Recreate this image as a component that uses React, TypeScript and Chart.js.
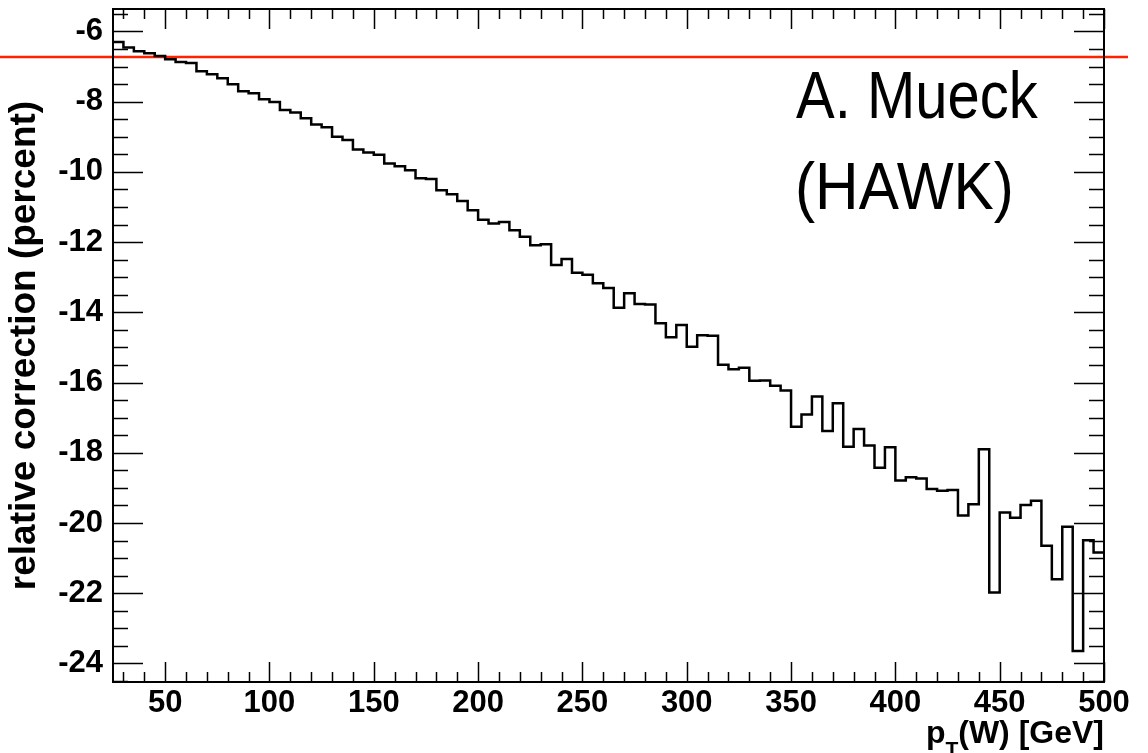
import { useEffect, useRef } from "react";
import { Chart, registerables } from "chart.js";

Chart.register(...registerables);

// ---- data ----
const binLow = 25; // GeV, lower edge of the first bin
const binWidth = 5; // GeV
const correction = [
  -6.30, -6.46, -6.56, -6.62, -6.70, -6.79, -6.87, -6.90, -7.13, -7.22,
  -7.33, -7.50, -7.70, -7.76, -7.93, -8.01, -8.24, -8.31, -8.47, -8.65,
  -8.73, -9.00, -9.09, -9.36, -9.45, -9.51, -9.76, -9.84, -9.95, -10.18,
  -10.20, -10.52, -10.64, -10.83, -11.09, -11.36, -11.47, -11.43, -11.66, -11.85,
  -12.09, -12.06, -12.65, -12.48, -12.87, -12.93, -13.17, -13.31, -13.87, -13.46,
  -13.76, -13.78, -14.31, -14.71, -14.36, -14.98, -14.65, -14.67, -15.49, -15.62,
  -15.58, -15.95, -15.94, -16.09, -16.23, -17.26, -16.91, -16.40, -17.38, -16.59,
  -17.83, -17.32, -17.79, -18.43, -17.84, -18.79, -18.70, -18.73, -19.03, -19.08,
  -19.06, -19.79, -19.47, -17.90, -21.98, -19.70, -19.85, -19.49, -19.37, -20.65,
  -21.60, -20.11, -23.65, -20.49, -20.84,
];
const averageCorrection = -6.73;
const averageLineSpan = [-30, 511.5];
const xRange = [25, 500];
const yRange = [-24.53, -5.36];
const xTickValues = [50, 100, 150, 200, 250, 300, 350, 400, 450, 500];
const yTickValues = [-24, -22, -20, -18, -16, -14, -12, -10, -8, -6];
const xMinorStep = 10;
const yMinorStep = 0.5;
const yTitle = "relative correction (percent)";
const xTitleMain = "p";
const xTitleSub = "T";
const xTitleRest = "(W) [GeV]";
const annotationLines = ["A. Mueck", "(HAWK)"];

const FONT = "'Liberation Sans', Arial, Helvetica, sans-serif";

const histPoints = correction.map((v, i) => ({ x: binLow + i * binWidth, y: v }));
histPoints.push({ x: binLow + correction.length * binWidth, y: correction[correction.length - 1] });

const framePlugin = {
  id: "frameTicks",
  afterDraw(chart: any) {
    const { ctx, chartArea, scales } = chart;
    const { left, right, top, bottom } = chartArea;
    const x = scales.x;
    const y = scales.y;
    ctx.save();
    ctx.strokeStyle = "#000";
    ctx.lineWidth = 1.5;
    ctx.beginPath();
    const xMin = xRange[0];
    const xMax = xRange[1];
    for (let v = Math.ceil(xMin / xMinorStep) * xMinorStep; v <= xMax + 1e-9; v += xMinorStep) {
      const px = Math.round(x.getPixelForValue(v)) + 0.5;
      const major = Math.abs(v % 50) < 1e-9;
      const len = major ? 20 : 10;
      ctx.moveTo(px, bottom);
      ctx.lineTo(px, bottom - len);
      ctx.moveTo(px, top);
      ctx.lineTo(px, top + len);
    }
    for (let v = Math.ceil(yRange[0] / yMinorStep) * yMinorStep; v <= yRange[1] + 1e-9; v += yMinorStep) {
      const py = Math.round(y.getPixelForValue(v)) + 0.5;
      const major = Math.abs(Math.round(v) - v) < 1e-9 && Math.round(v) % 2 === 0;
      const len = major ? 30 : 15;
      ctx.moveTo(left, py);
      ctx.lineTo(left + len, py);
      ctx.moveTo(right, py);
      ctx.lineTo(right - len, py);
    }
    ctx.stroke();
    ctx.lineWidth = 2;
    ctx.strokeRect(left, top, right - left, bottom - top);

    // x title with subscript
    ctx.fillStyle = "#000";
    ctx.textBaseline = "alphabetic";
    ctx.textAlign = "left";
    const mainFont = `bold 32px ${FONT}`;
    const subFont = `bold 21px ${FONT}`;
    ctx.font = mainFont;
    const wMain = ctx.measureText(xTitleMain).width;
    const wRest = ctx.measureText(xTitleRest).width;
    ctx.font = subFont;
    const wSub = ctx.measureText(xTitleSub).width;
    const total = wMain + wSub + wRest;
    const baseY = bottom + 61;
    let cx = right - total;
    ctx.font = mainFont;
    ctx.fillText(xTitleMain, cx, baseY);
    cx += wMain;
    ctx.font = subFont;
    ctx.fillText(xTitleSub, cx, baseY + 13);
    cx += wSub;
    ctx.font = mainFont;
    ctx.fillText(xTitleRest, cx, baseY);

    // annotation (slightly tall glyphs, as in the original)
    ctx.font = `58px ${FONT}`;
    const stretch = 1.15;
    ctx.save();
    ctx.translate(796, 118);
    ctx.scale(1, stretch);
    ctx.fillText(annotationLines[0], 0, 0);
    ctx.restore();
    ctx.save();
    ctx.translate(795, 209);
    ctx.scale(1.04, stretch);
    ctx.fillText(annotationLines[1], 0, 0);
    ctx.restore();
    ctx.restore();
  },
};

export default function App() {
  const ref = useRef<HTMLCanvasElement | null>(null);
  useEffect(() => {
    if (!ref.current) return;
    const chart = new Chart(ref.current, {
      type: "line",
      data: {
        datasets: [
          {
            data: histPoints,
            borderColor: "#000",
            borderWidth: 2.5,
            pointRadius: 0,
            stepped: true,
            fill: false,
          } as any,
          {
            data: averageLineSpan.map((xv) => ({ x: xv, y: averageCorrection })),
            borderColor: "#ff2200",
            borderWidth: 2.5,
            pointRadius: 0,
            clip: false,
            fill: false,
          } as any,
        ],
      },
      options: {
        responsive: false,
        animation: false,
        events: [],
        layout: { padding: { top: 9, right: 44, bottom: 0, left: 0 } },
        plugins: { legend: { display: false }, tooltip: { enabled: false } },
        scales: {
          x: {
            type: "linear",
            min: xRange[0],
            max: xRange[1],
            grid: { display: false, drawTicks: false },
            border: { display: false },
            ticks: {
              padding: 3,
              color: "#000",
              font: { family: FONT, size: 31, weight: "bold" },
              maxRotation: 0,
              autoSkip: false,
              callback: (v: any) => String(v),
            },
            afterBuildTicks: (axis: any) => {
              axis.ticks = xTickValues.map((v) => ({ value: v }));
            },
            afterFit: (axis: any) => {
              axis.height = 71;
              axis.paddingLeft = 0;
              axis.paddingRight = 0;
            },
          },
          y: {
            type: "linear",
            min: yRange[0],
            max: yRange[1],
            grid: { display: false, drawTicks: false },
            border: { display: false },
            title: {
              display: true,
              text: yTitle,
              color: "#000",
              font: { family: FONT, size: 37, weight: "bold" },
              padding: { top: 3, bottom: 0 },
            },
            ticks: {
              padding: 10,
              color: "#000",
              font: { family: FONT, size: 31, weight: "bold" },
              autoSkip: false,
              callback: (v: any) => String(v),
            },
            afterBuildTicks: (axis: any) => {
              axis.ticks = yTickValues.map((v) => ({ value: v }));
            },
            afterFit: (axis: any) => {
              axis.width = 113;
              axis.paddingTop = 0;
              axis.paddingBottom = 0;
            },
          },
        },
      },
      plugins: [framePlugin],
    });
    return () => chart.destroy();
  }, []);
  return (
    <div style={{ position: "fixed", left: 0, top: 0, width: 1148, height: 753, background: "#fff" }}>
      <canvas ref={ref} width={1148} height={753} style={{ display: "block" }} />
    </div>
  );
}
